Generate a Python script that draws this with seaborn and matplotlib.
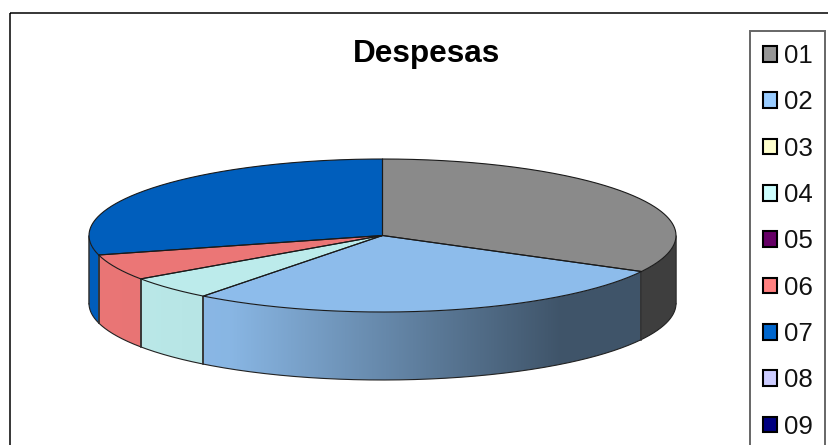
import numpy as np
import matplotlib
matplotlib.use('Agg')
import matplotlib.pyplot as plt
from matplotlib.patches import Patch, Polygon, Rectangle
import seaborn as sns

categories = ['01', '02', '03', '04', '05', '06', '07', '08', '09']
shares = [32.8, 27.65, 0, 4.95, 0, 5.5, 29.1, 0, 0]
legend_colors = ['#969696', '#99ccff', '#ffffcc', '#ccffff', '#660066',
                 '#ff8080', '#0066cc', '#ccccff', '#000080']

sns.set_theme(style='white')
plt.rcParams['font.family'] = ['Liberation Sans', 'DejaVu Sans']
palette = sns.color_palette(legend_colors)

# pixel layout of the pie
cx, cy = 382.5, 235.5
rx, ry = 293.5, 76.5
depth = 68
top_shade = 0.92


def rim(t):
    # t in degrees, clockwise from 12 o'clock
    r = np.radians(t)
    return cx + rx * np.sin(r), cy - ry * np.cos(r)


def wall_shade(x):
    return np.interp(x, [89, 230, 560, 676], [1.0, 0.97, 0.45, 0.45])


fig = plt.figure(figsize=(8.29, 4.45), dpi=100)
ax = fig.add_axes([0, 0, 1, 1])
ax.axis('off')

# chart area border, right and bottom run off the picture
ax.add_patch(Rectangle((10.5, 12.5), 900, 600, fill=False, ec='black', lw=1.1))

edges = np.cumsum([0] + shares) / sum(shares) * 360

# top faces and side walls
for i in range(len(categories)):
    t0, t1 = edges[i], edges[i + 1]
    if t1 <= t0:
        continue
    base = np.array(palette[i])

    a0, a1 = max(t0, 90), min(t1, 270)
    if a1 > a0:
        xs, ys = rim(np.linspace(a0, a1, 200))
        # gradient strip clipped to the wall outline
        x_lo, x_hi = xs.min(), xs.max()
        grid = np.linspace(x_lo, x_hi, 400)
        strip = base * top_shade * wall_shade(grid)[:, None]
        im = ax.imshow(strip[None, :, :], extent=(x_lo, x_hi, 400, 150),
                       aspect='auto', zorder=1, interpolation='bilinear')
        outline = Polygon(np.c_[np.r_[xs, xs[::-1]], np.r_[ys, ys[::-1] + depth]],
                          transform=ax.transData, fill=False, lw=0)
        ax.add_patch(outline)
        im.set_clip_path(outline)
        ax.plot(xs, ys + depth, color='#222222', lw=0.8, zorder=2)
        for k in (0, -1):
            ax.plot([xs[k], xs[k]], [ys[k], ys[k] + depth], color='#333333', lw=1.1, zorder=2)

    xs, ys = rim(np.linspace(t0, t1, 200))
    ax.fill(np.r_[cx, xs], np.r_[cy, ys], color=base * top_shade, lw=0, zorder=3)
    ax.plot(np.r_[cx, xs, cx], np.r_[cy, ys, cy], color='#1a1a1a', lw=0.8,
            solid_joinstyle='round', zorder=4)

ax.set_xlim(0, 829)
ax.set_ylim(445, 0)

ax.text(426.5, 62, 'Despesas', fontsize=22.7, fontweight='bold', color='black',
        ha='center', va='baseline')

handles = [Patch(facecolor=c, edgecolor='black', lw=1.5) for c in palette]
fig.legend(handles, categories, loc='upper left',
           bbox_to_anchor=(750 / 829, 1 - 31 / 445), bbox_transform=fig.transFigure,
           fontsize=18.6, frameon=True, fancybox=False, framealpha=1,
           edgecolor='#666666', labelcolor='#111111', borderaxespad=0, borderpad=0.5,
           labelspacing=0.865, handlelength=0.56, handleheight=0.56,
           handletextpad=0.24)
fig.legends[0].get_frame().set_linewidth(1.4)

fig.savefig('out.png', dpi=100)
